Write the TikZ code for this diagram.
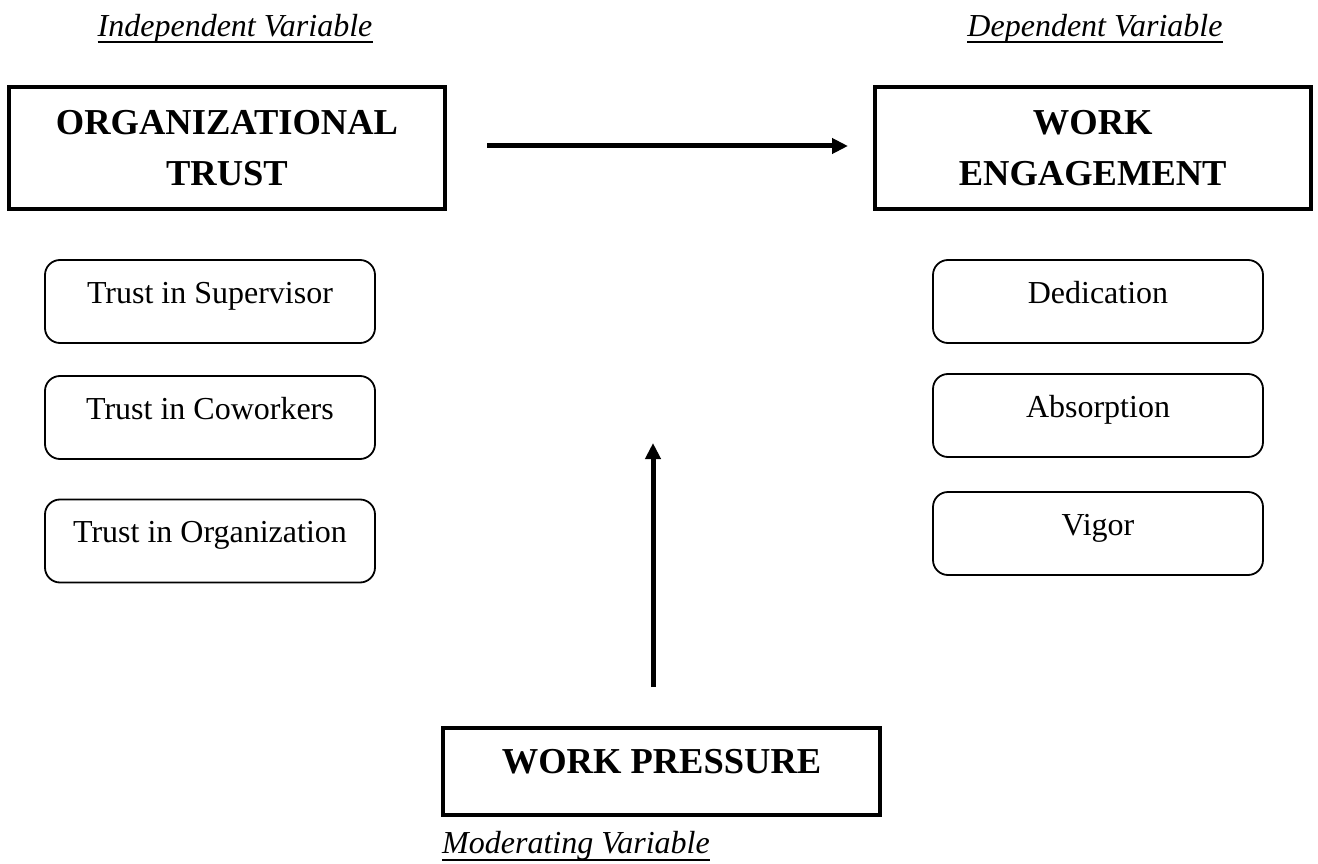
\documentclass[tikz,border=0pt]{standalone}
\usepackage{fontspec}
\setmainfont{Liberation Serif}
\usetikzlibrary{arrows.meta}
\begin{document}
\begin{tikzpicture}[x=1pt,y=-1pt,
  bigbox/.style={draw, line width=4pt, minimum width=436pt, inner sep=0pt,
    font=\fontsize{36.5}{51}\selectfont\bfseries},
  varbox/.style={bigbox, minimum height=121.5pt, align=center},
  dimbox/.style={draw, line width=1.8pt, rounded corners=15pt,
    minimum width=330pt, minimum height=83pt, inner sep=0pt,
    text height=23pt, text depth=20pt, font=\fontsize{32}{38}\selectfont},
  caption/.style={inner sep=0pt, font=\fontsize{32}{38}\selectfont\itshape},
  uline/.style={line width=1.6pt},
  link/.style={line width=5pt, -{Triangle[length=16pt,width=15pt]}}
]
\useasboundingbox (0,0) rectangle (1318,864);

% variable headings
\node[caption, anchor=base] (iv) at (235,37) {Independent Variable};
\draw[uline] ([yshift=-5pt]iv.base west) -- ([yshift=-5pt]iv.base east);
\node[caption, anchor=base] (dv) at (1095,37) {Dependent Variable};
\draw[uline] ([yshift=-5pt]dv.base west) -- ([yshift=-5pt]dv.base east);

% main constructs
\node[varbox] (org) at (227,148) {ORGANIZATIONAL\\TRUST};
\node[varbox] (we) at (1092.7,148) {WORK\\ENGAGEMENT};
\node[bigbox, minimum width=437pt, minimum height=87pt,
      text height=25pt, text depth=20pt] (wp) at (661.5,771) {WORK PRESSURE};

% dimensions of organizational trust
\node[dimbox] (ts) at (210,301.5) {Trust in Supervisor};
\node[dimbox] (tc) at (210,417.5) {Trust in Coworkers};
\node[dimbox] (to) at (210,541) {Trust in Organization};

% dimensions of work engagement
\node[dimbox] (de) at (1098,301.5) {Dedication};
\node[dimbox] (ab) at (1098,415.5) {Absorption};
\node[dimbox] (vi) at (1098,533.5) {Vigor};

% moderator label
\node[caption, anchor=base west] (mv) at (442,853) {Moderating Variable};
\draw[uline] ([yshift=-7pt]mv.base west) -- ([yshift=-7pt]mv.base east);

% relations
\draw[link, shorten <=40pt, shorten >=24.7pt]
  ([yshift=2pt]org.east) -- ([yshift=2pt]we.west);
\coordinate (mtip) at (653,443);
\draw[link, shorten <=38.5pt] (mtip |- wp.north) -- (mtip);
\end{tikzpicture}
\end{document}
